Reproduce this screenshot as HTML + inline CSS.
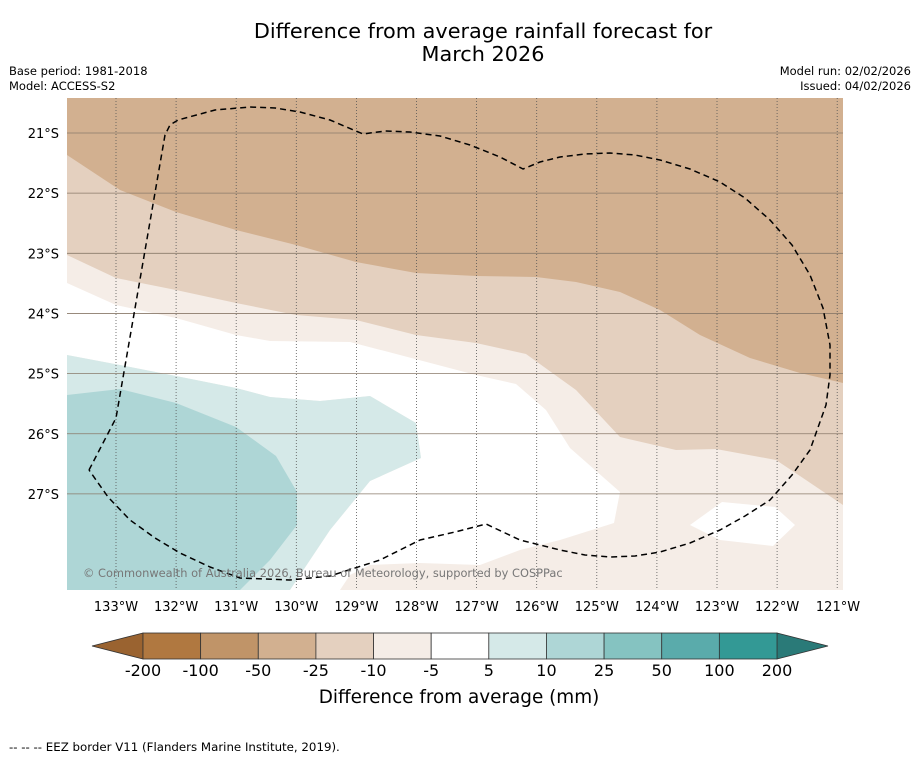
<!DOCTYPE html>
<html><head><meta charset="utf-8"><style>
body{margin:0;background:#fff;font-family:"DejaVu Sans","Liberation Sans",sans-serif}
svg{display:block}
</style></head><body>
<svg width="919" height="758" viewBox="0 0 919 758" id="c">
<text x="483" y="38" font-size="20.8" text-anchor="middle">Difference from average rainfall forecast for</text>
<text x="483" y="61" font-size="20.8" text-anchor="middle">March 2026</text>
<text x="9" y="75" font-size="11.5">Base period: 1981-2018</text>
<text x="9" y="90" font-size="11.5">Model: ACCESS-S2</text>
<text x="911" y="75" font-size="11.5" text-anchor="end">Model run: 02/02/2026</text>
<text x="911" y="90" font-size="11.5" text-anchor="end">Issued: 04/02/2026</text>
<g id="map"></g>
<g id="cb"></g>
<text x="459" y="703" font-size="18.4" text-anchor="middle">Difference from average (mm)</text>
<text x="9" y="751" font-size="11.8">--  --  -- EEZ border V11 (Flanders Marine Institute, 2019).</text>
</svg>
<script>
const lonLabels=["133°W","132°W","131°W","130°W","129°W","128°W","127°W","126°W","125°W","124°W","123°W","122°W","121°W"];
const latLabels=["21°S","22°S","23°S","24°S","25°S","26°S","27°S"];
const cbLabels=["-200","-100","-50","-25","-10","-5","5","10","25","50","100","200"];
const cbColors=["#b07840","#c09468","#d2b090","#e4d0bf","#f5ede7","#ffffff","#d5e9e8","#aed6d6","#85c3c1","#5aabab","#339995"];
const darkBrown=[[67,98],[67,155],[120,190],[176,212],[236,230],[296,245],[356,262],[416,273],[476,276],[536,277],[576,282],[620,292],[660,310],[700,335],[750,358],[800,373],[843,383],[843,98]];
const lightBrown=[[67,98],[67,255],[116,278],[176,290],[236,303],[296,315],[356,320],[416,335],[476,343],[526,354],[576,390],[620,437],[676,450],[716,449],[776,460],[800,476],[843,505],[843,98]];
const whiteZone=[[67,283],[116,305],[176,318],[236,335],[270,341],[350,342],[400,355],[476,375],[516,384],[546,410],[570,448],[620,492],[614,523],[560,540],[520,550],[480,565],[420,563],[370,565],[350,575],[340,590],[290,590],[330,530],[370,481],[421,458],[416,423],[370,396],[320,401],[270,397],[236,388],[176,376],[120,365],[67,355]];
const tealLight=[[67,355],[120,365],[176,376],[236,388],[270,397],[320,401],[370,396],[416,423],[421,458],[370,481],[330,530],[290,590],[67,590]];
const teal=[[67,395],[120,389],[176,403],[236,427],[276,456],[297,492],[297,525],[270,560],[240,590],[67,590]];
const island=[[690,525],[722,502],[775,507],[795,525],[773,546],[720,540]];
const eez=[[89,470],[116,418],[165,135],[170,125],[178,120],[215,110],[250,107],[275,108],[300,112],[330,120],[363,134],[385,131],[410,132],[440,136],[470,145],[500,157],[523,169],[540,162],[560,157],[585,154],[610,153],[635,155],[660,160],[690,169],[720,182],[745,198],[770,220],[792,245],[810,275],[823,308],[830,345],[830,375],[826,405],[810,450],[792,475],[770,500],[745,516],[720,530],[690,543],[660,552],[635,556],[610,557],[585,555],[560,550],[520,540],[486,524],[455,532],[420,540],[380,560],[330,576],[290,580],[240,578],[210,567],[180,553],[155,538],[130,520],[108,497],[89,470]];
const NS="http://www.w3.org/2000/svg";
const X0=67,X1=843,Y0=98,Y1=590;
const xLon=i=>116+i*60.1, yLat=i=>133+i*60.15;
function mk(t,a,p){const e=document.createElementNS(NS,t);for(const k in a)e.setAttribute(k,a[k]);p.appendChild(e);return e;}
const map=document.getElementById('map');
const clip=mk('clipPath',{id:'mc'},map);mk('rect',{x:X0,y:Y0,width:X1-X0,height:Y1-Y0},clip);
const g=mk('g',{'clip-path':'url(#mc)'},map);
let r=mk('rect',{x:X0,y:Y0,width:X1-X0,height:Y1-Y0,fill:'#f5ede7'},g);


const pts=a=>a.map(p=>p.join(',')).join(' ');
[[lightBrown,'#e4d0bf','region-minus25-to-minus10'],[darkBrown,'#d2b090','region-minus50-to-minus25'],[whiteZone,'#ffffff','region-near-average'],[tealLight,'#d5e9e8','region-5-to-10'],[teal,'#aed6d6','region-10-to-25'],[island,'#ffffff','region-near-average-island']].forEach(([a,c,n])=>{
 const p=mk('polygon',{points:pts(a),fill:c},g);
 
 
});
lonLabels.forEach((l,i)=>{const x=xLon(i);
 if(x<X1){const ln=mk('line',{x1:x,x2:x,y1:Y0,y2:Y1,stroke:'#555','stroke-width':0.8,'stroke-dasharray':'1,2'},g);
 
 }
 const t=mk('text',{x:i==12?838:x,y:611,'font-size':13,'text-anchor':'middle'},map);t.textContent=l;
 
 
});
latLabels.forEach((l,i)=>{const y=yLat(i);
 const ln=mk('line',{x1:X0,x2:X1,y1:y,y2:y,stroke:'#8a7a6a','stroke-width':0.8},g);
 
 
 const t=mk('text',{x:59,y:y+5,'font-size':13,'text-anchor':'end'},map);t.textContent=l;
 
 
});
const e=mk('polyline',{points:pts(eez),fill:'none',stroke:'#000','stroke-width':1.5,'stroke-dasharray':'6,4','stroke-linejoin':'round'},g);


const cp=mk('text',{x:83,y:577,'font-size':11.4,fill:'#777'},g);cp.textContent="© Commonwealth of Australia 2026, Bureau of Meteorology, supported by COSPPac";


const cb=document.getElementById('cb');
const bx0=143,bx1=777,by0=633,by1=659,bw=(bx1-bx0)/cbColors.length;
const lt=mk('polygon',{points:`${bx0},${by0} ${bx0},${by1} 92,646`,fill:'#9a6330',stroke:'#333','stroke-width':0.8},cb);


const rt=mk('polygon',{points:`${bx1},${by0} ${bx1},${by1} 828,646`,fill:'#2a7a78',stroke:'#333','stroke-width':0.8},cb);


cbColors.forEach((c,i)=>{const b=mk('rect',{x:bx0+i*bw,y:by0,width:bw,height:by1-by0,fill:c,stroke:'#333','stroke-width':0.8},cb);
 
 });
cbLabels.forEach((l,i)=>{const t=mk('text',{x:bx0+i*bw,y:676,'font-size':16,'text-anchor':'middle'},cb);t.textContent=l;
 
 });
</script>
</body></html>
